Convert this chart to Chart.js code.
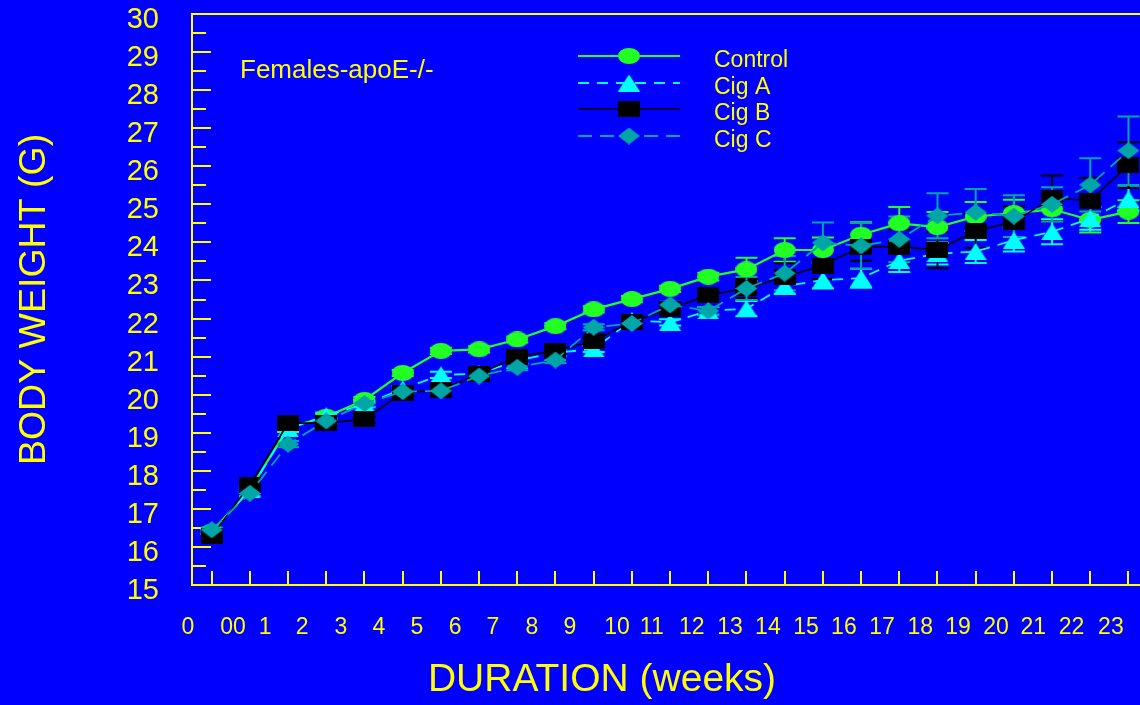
<!DOCTYPE html>
<html><head><meta charset="utf-8">
<script src="https://cdn.jsdelivr.net/npm/chart.js@4.4.1/dist/chart.umd.min.js"></script>
<style>
html,body{margin:0;padding:0;background:#0000ff;overflow:hidden;width:1140px;height:705px}
#wrap{position:absolute;left:0;top:0;width:1204px;height:705px}
canvas{display:block}
</style></head><body>
<div id="wrap"><canvas id="c" width="1204" height="705"></canvas></div>
<script>
// ---- data ----
const weeks = [0,1,2,3,4,5,6,7,8,9,10,11,12,13,14,15,16,17,18,19,20,21,22,23,24];
const control = [16.40,17.50,19.13,19.42,19.86,20.57,21.15,21.19,21.45,21.80,22.24,22.51,22.78,23.10,23.29,23.80,23.80,24.20,24.50,24.40,24.68,24.77,24.87,24.59,24.81];
const cigA    = [16.40,17.50,19.10,19.45,19.75,20.15,20.52,20.55,20.90,21.10,21.20,21.95,21.90,22.20,22.26,22.85,23.01,23.06,23.52,23.70,23.76,24.06,24.28,24.63,25.14];
const cigB    = [16.29,17.63,19.25,19.26,19.35,20.05,20.12,20.54,21.00,21.15,21.41,21.92,22.25,22.62,22.79,23.10,23.39,23.89,23.89,23.80,24.30,24.54,25.16,25.10,26.03];
const cigC    = [16.45,17.41,18.70,19.31,19.77,20.08,20.10,20.49,20.72,20.91,21.77,21.87,22.36,22.20,22.79,23.19,23.99,23.91,24.08,24.70,24.79,24.69,25.00,25.51,26.41];
const errControl = [0.06,0.07,0.08,0.08,0.08,0.08,0.08,0.08,0.08,0.08,0.08,0.08,0.08,0.10,0.31,0.31,0.33,0.33,0.43,0.40,0.38,0.35,0.30,0.33,0.30];
const errCigA    = [0.06,0.07,0.08,0.08,0.08,0.08,0.08,0.08,0.08,0.08,0.08,0.08,0.08,0.10,0.20,0.20,0.22,0.25,0.30,0.28,0.30,0.30,0.33,0.30,0.30];
const errCigB    = [0.06,0.07,0.08,0.08,0.08,0.08,0.08,0.08,0.08,0.08,0.08,0.08,0.08,0.10,0.25,0.35,0.35,0.37,0.45,0.48,0.45,0.40,0.60,0.60,0.60];
const errCigC    = [0.06,0.07,0.08,0.08,0.08,0.08,0.08,0.08,0.08,0.08,0.08,0.08,0.08,0.10,0.30,0.45,0.53,0.60,0.60,0.59,0.61,0.55,0.45,0.70,0.90];
const xTickLabels = ['0','00','1','2','3','4','5','6','7','8','9','10','11','12','13','14','15','16','17','18','19','20','21','22','23'];
const xTickValues = [-0.62,0.56,1.40,2.37,3.38,4.38,5.37,6.37,7.36,8.38,9.38,10.61,11.52,12.57,13.57,14.56,15.56,16.55,17.55,18.55,19.54,20.53,21.51,22.51,23.54];
const yTickValues = [15,16,17,18,19,20,21,22,23,24,25,26,27,28,29,30];

// ---- styling ----
const FONT = '"Liberation Sans", Arial, Helvetica, sans-serif';
const YEL = '#ffff00';

function makeMarker(shape, color) {
  const c = document.createElement('canvas');
  const w = 22, h = (shape === 'triangle' || shape === 'diamond') ? 17 : 16;
  c.width = w; c.height = h;
  const g = c.getContext('2d');
  g.fillStyle = color;
  g.beginPath();
  if (shape === 'circle') g.ellipse(w/2, h/2, w/2, h/2, 0, 0, Math.PI*2);
  else if (shape === 'triangle') { g.moveTo(w/2, 0); g.lineTo(w, h); g.lineTo(0, h); g.closePath(); }
  else if (shape === 'rect') g.rect(0, 0, w, h);
  else { g.moveTo(w/2, 0); g.lineTo(w, h/2); g.lineTo(w/2, h); g.lineTo(0, h/2); g.closePath(); }
  g.fill();
  return c;
}

const series = [
  {label:'Control', values:control, err:errControl, color:'#22ff22', shape:'circle',   dash:[],     width:2.2, order:4},
  {label:'Cig A',   values:cigA,    err:errCigA,    color:'#00ffff', shape:'triangle', dash:[11,8], width:1.8, order:3},
  {label:'Cig B',   values:cigB,    err:errCigB,    color:'#000000', shape:'rect',     dash:[],     width:1.6, order:2},
  {label:'Cig C',   values:cigC,    err:errCigC,    color:'#00a6a6', shape:'diamond',  dash:[14,8], width:1.8, order:1}
];

const datasets = series.map(s => ({
  label: s.label,
  data: weeks.map((w, i) => ({x: w, y: s.values[i]})),
  errors: s.err,
  borderColor: s.color,
  backgroundColor: s.color,
  borderWidth: s.width,
  borderDash: s.dash,
  pointStyle: makeMarker(s.shape, s.color),
  pointRadius: 9, pointHoverRadius: 9,
  tension: 0, clip: false, order: s.order
}));

const decor = {
  id: 'decor',
  beforeDatasetsDraw(chart) {
    const {ctx, chartArea: a, scales: {x, y}} = chart;
    ctx.save();
    ctx.strokeStyle = YEL; ctx.lineWidth = 2;
    // top frame line
    ctx.beginPath(); ctx.moveTo(a.left - 1, a.top); ctx.lineTo(a.right, a.top); ctx.stroke();
    // inward y ticks (major + minor)
    for (let k = 0; k < yTickValues.length; k++) {
      const v = yTickValues[k];
      [[v, 19], [v + 0.5, 14]].forEach(([tv, len]) => {
        if (tv <= y.min || tv >= y.max) return;
        const py = Math.round(y.getPixelForValue(tv));
        ctx.beginPath(); ctx.moveTo(a.left, py); ctx.lineTo(a.left + len, py); ctx.stroke();
      });
    }
    // inward x ticks at each week
    weeks.forEach(w => {
      const px = Math.round(x.getPixelForValue(w));
      ctx.beginPath(); ctx.moveTo(px, a.bottom); ctx.lineTo(px, a.bottom - 14); ctx.stroke();
    });
    // error bars
    const idx = chart.data.datasets.map((d, i) => i).sort((p, q) => chart.data.datasets[q].order - chart.data.datasets[p].order);
    idx.forEach(i => {
      const ds = chart.data.datasets[i];
      const meta = chart.getDatasetMeta(i);
      ctx.strokeStyle = ds.borderColor; ctx.lineWidth = 2; ctx.setLineDash([]);
      meta.data.forEach((pt, j) => {
        const v = ds.data[j].y, e = ds.errors[j];
        const y1 = y.getPixelForValue(v + e), y2 = y.getPixelForValue(v - e);
        ctx.beginPath();
        ctx.moveTo(pt.x, y1); ctx.lineTo(pt.x, y2);
        ctx.moveTo(pt.x - 11, y1); ctx.lineTo(pt.x + 11, y1);
        ctx.moveTo(pt.x - 11, y2); ctx.lineTo(pt.x + 11, y2);
        ctx.stroke();
      });
    });
    ctx.restore();
  },
  afterDraw(chart) {
    const {ctx} = chart;
    ctx.save();
    ctx.fillStyle = YEL;
    ctx.font = '26px ' + FONT;
    ctx.textBaseline = 'alphabetic'; ctx.textAlign = 'left';
    ctx.fillText('Females-apoE-/-', 240, 78);
    // legend
    const rows = [56, 83, 109, 136];
    chart.data.datasets.forEach((ds, i) => {
      const ry = rows[i];
      ctx.strokeStyle = ds.borderColor; ctx.lineWidth = ds.borderWidth;
      ctx.setLineDash(ds.borderDash);
      ctx.beginPath(); ctx.moveTo(578, ry); ctx.lineTo(680, ry); ctx.stroke();
      ctx.setLineDash([]);
      const m = ds.pointStyle;
      ctx.drawImage(m, 629 - m.width/2, ry - m.height/2);
      ctx.fillStyle = YEL; ctx.font = '23px ' + FONT; ctx.textBaseline = 'middle';
      ctx.fillText(ds.label, 714, ry + 5);
    });
    ctx.restore();
  }
};

new Chart(document.getElementById('c'), {
  type: 'line',
  data: {datasets},
  options: {
    responsive: false, animation: false, devicePixelRatio: 1,
    layout: {autoPadding: false, padding: {top: 14, left: 0, right: 0, bottom: 0}},
    plugins: {
      legend: {display: false}, tooltip: {enabled: false},
      title: {display: true, position: 'bottom', text: 'DURATION (weeks)', color: YEL,
              font: {family: FONT, size: 39, weight: 'normal'}, padding: {top: 0, bottom: 1}}
    },
    scales: {
      x: {
        type: 'linear', min: -0.5157, max: 25.977,
        grid: {display: false, drawTicks: false},
        border: {display: true, color: YEL, width: 2},
        ticks: {color: YEL, font: {family: FONT, size: 23}, padding: 29, autoSkip: false,
                maxRotation: 0, minRotation: 0, callback: (v, i) => xTickLabels[i]},
        afterBuildTicks: s => { s.ticks = xTickValues.map(v => ({value: v})); },
        afterFit: s => { s.height = 72.2; s.paddingLeft = 0; s.paddingRight = 0; }
      },
      y: {
        type: 'linear', min: 15, max: 30,
        grid: {display: false, drawTicks: false},
        border: {display: true, color: YEL, width: 2},
        ticks: {color: YEL, font: {family: FONT, size: 29}, padding: 33, labelOffset: 6, autoSkip: false, stepSize: 1},
        afterBuildTicks: s => { s.ticks = yTickValues.map(v => ({value: v})); },
        title: {display: true, text: 'BODY WEIGHT (G)', color: YEL, font: {family: FONT, size: 37.5, weight: 'normal'}, padding: {top: 12, bottom: 0}},
        afterFit: s => { s.width = 192; s.paddingTop = 0; s.paddingBottom = 0; }
      }
    }
  },
  plugins: [decor]
});
</script>
</body></html>
